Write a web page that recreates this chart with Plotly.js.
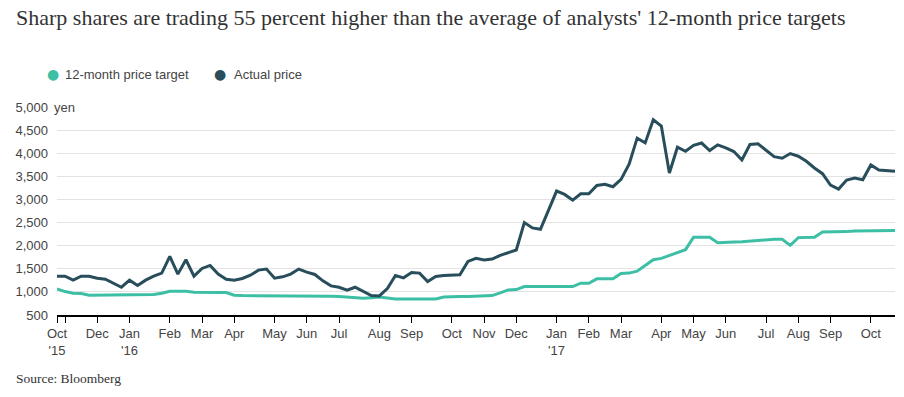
<!DOCTYPE html>
<html>
<head>
<meta charset="utf-8">
<script src="https://cdn.plot.ly/plotly-3.0.1.min.js"></script>
<style>html,body{margin:0;padding:0;background:#fff;}#chart{width:904px;height:397px;}</style>
</head>
<body>
<div id="chart"></div>
<script>
// Weekly observations, Oct 2015 – Nov 2017 (index = week number)
const targetPrice = [
  1065, 1007, 971, 964, 928, 928, 928, 928, 928, 942,
  928, 928, 942, 971, 1014, 1014, 1014, 993, 986, 986,
  986, 986, 928, 920, 920, 920, 920, 920, 920, 920,
  920, 920, 920, 915, 905, 900, 891, 880, 862, 875,
  891, 870, 848, 848, 848, 848, 848, 848, 890, 899,
  899, 900, 905, 905, 920, 978, 1043, 1050, 1116, 1116,
  1116, 1116, 1116, 1116, 1116, 1188, 1188, 1283, 1283, 1283,
  1399, 1406, 1449, 1580, 1696, 1725, 1790, 1841, 1913, 2181,
  2181, 2181, 2065, 2080, 2080, 2087, 2101, 2109, 2130, 2138,
  2138, 2007, 2174, 2174, 2181, 2297, 2297, 2297, 2304, 2319,
  2319, 2326, 2326, 2326, 2326
];
const actualPrice = [
  1340, 1340, 1254, 1340, 1340, 1297, 1275, 1196, 1101, 1254,
  1138, 1254, 1340, 1406, 1768, 1384, 1696, 1340, 1507, 1572,
  1384, 1275, 1254, 1290, 1362, 1471, 1493, 1297, 1326, 1384,
  1493, 1428, 1377, 1239, 1130, 1101, 1036, 1101, 1007, 920,
  913, 1072, 1355, 1304, 1420, 1406, 1225, 1333, 1355, 1370,
  1370, 1659, 1725, 1688, 1710, 1790, 1848, 1906, 2500, 2384,
  2355, 2754, 3181, 3109, 2985, 3123, 3123, 3304, 3326, 3275,
  3435, 3761, 4326, 4224, 4724, 4587, 3572, 4130, 4043, 4170,
  4220, 4058, 4181, 4116, 4036, 3855, 4188, 4203, 4058, 3927,
  3891, 3993, 3935, 3826, 3681, 3558, 3312, 3225, 3420, 3464,
  3427, 3746, 3638, 3616, 3609
];
const weekIndex = actualPrice.map((_, i) => i);

const xTickWeeks  = [0, 1, 5, 9, 14, 18, 22, 27, 31, 35, 40, 44, 49, 53, 57, 62, 66, 70, 75, 79, 83, 88, 92, 96, 101];
const xTickLabels = ["Oct<br>'15", "", "Dec", "Jan<br>'16", "Feb", "Mar", "Apr", "May", "Jun", "Jul", "Aug", "Sep", "Oct", "Nov", "Dec",
                     "Jan<br>'17", "Feb", "Mar", "Apr", "May", "Jun", "Jul", "Aug", "Sep", "Oct"];
const yTickVals   = [500, 1000, 1500, 2000, 2500, 3000, 3500, 4000, 4500, 5000];
const yTickLabels = ["500", "1,000", "1,500", "2,000", "2,500", "3,000", "3,500", "4,000", "4,500", "5,000"];

const seriesNames = ["12-month price target", "Actual price"];
const TEAL = "#3dbfa6";
const DARK = "#284e5b";
const SANS = "Liberation Sans, Arial, sans-serif";
const SERIF = "Liberation Serif, Times New Roman, serif";

const traces = [
  {x: weekIndex, y: targetPrice, type: "scatter", mode: "lines", name: seriesNames[0],
   line: {color: TEAL, width: 3}, showlegend: false, hoverinfo: "y"},
  {x: weekIndex, y: actualPrice, type: "scatter", mode: "lines", name: seriesNames[1],
   line: {color: DARK, width: 3}, showlegend: false, hoverinfo: "y"}
];

const PW = 838; // plot width in px
const layout = {
  width: 904, height: 397,
  margin: {l: 57, r: 9, t: 107, b: 82},
  paper_bgcolor: "#fff", plot_bgcolor: "#fff",
  showlegend: false,
  xaxis: {
    range: [0, 104], tickmode: "array", tickvals: xTickWeeks, ticktext: xTickLabels,
    showgrid: false, zeroline: false, showline: true, linecolor: "#000", linewidth: 1.5,
    ticks: "outside", ticklen: 6, tickcolor: "#000", tickwidth: 1,
    tickfont: {family: SANS, size: 13, color: "#444"}, fixedrange: true
  },
  yaxis: {
    range: [500, 5000], tickmode: "array", tickvals: yTickVals, ticktext: yTickLabels,
    showgrid: true, gridcolor: "#e3e3e3", gridwidth: 1, zeroline: false, showline: false,
    ticks: "", ticklabelstandoff: 8,
    tickfont: {family: SANS, size: 13, color: "#444"}, fixedrange: true
  },
  annotations: [
    {xref: "paper", yref: "paper", x: (14 - 57) / PW, y: 1, yshift: 90, xanchor: "left", yanchor: "middle",
     text: "Sharp shares are trading 55 percent higher than the average of analysts' 12-month price targets",
     showarrow: false, font: {family: SERIF, size: 22, color: "#333"}},
    {xref: "paper", yref: "paper", x: (53 - 57) / PW, y: 1, yshift: 33, xanchor: "center", yanchor: "middle",
     text: "●", showarrow: false, font: {family: "DejaVu Sans", size: 14, color: TEAL}},
    {xref: "paper", yref: "paper", x: (63 - 57) / PW, y: 1, yshift: 33, xanchor: "left", yanchor: "middle",
     text: seriesNames[0], showarrow: false, font: {family: SANS, size: 13, color: "#444"}},
    {xref: "paper", yref: "paper", x: (220 - 57) / PW, y: 1, yshift: 33, xanchor: "center", yanchor: "middle",
     text: "●", showarrow: false, font: {family: "DejaVu Sans", size: 14, color: DARK}},
    {xref: "paper", yref: "paper", x: (232 - 57) / PW, y: 1, yshift: 33, xanchor: "left", yanchor: "middle",
     text: seriesNames[1], showarrow: false, font: {family: SANS, size: 13, color: "#444"}},
    {xref: "paper", yref: "y", x: 0, xshift: -6, y: 5000, xanchor: "left", yanchor: "middle",
     text: "yen ", showarrow: false, bgcolor: "#fff", borderpad: 2,
     font: {family: SANS, size: 13, color: "#444"}},
    {xref: "paper", yref: "paper", x: (14 - 57) / PW, y: 0, yshift: -63, xanchor: "left", yanchor: "middle",
     text: "Source: Bloomberg", showarrow: false, font: {family: SERIF, size: 13.5, color: "#333"}}
  ]
};

Plotly.newPlot("chart", traces, layout, {displayModeBar: false, staticPlot: true});
</script>
</body>
</html>
